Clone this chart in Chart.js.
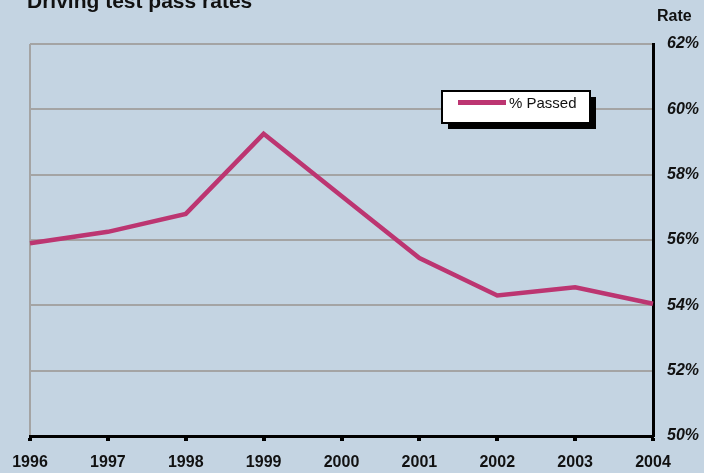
<!DOCTYPE html>
<html>
<head>
<meta charset="utf-8">
<script src="https://cdn.jsdelivr.net/npm/chart.js@4/dist/chart.umd.min.js"></script>
<style>
  html, body { margin: 0; padding: 0; background: #c4d4e2; }
  #wrap { width: 704px; height: 473px; position: relative; }
</style>
</head>
<body>
<div id="wrap"><canvas id="c" width="704" height="473"></canvas></div>
<script>
// Driving test pass rates by year
const years = ['1996', '1997', '1998', '1999', '2000', '2001', '2002', '2003', '2004'];
const passed = [55.9, 56.25, 56.8, 59.25, 57.35, 55.45, 54.3, 54.55, 54.05];
const rateTicks = [50, 52, 54, 56, 58, 60, 62];

const chartTitle = 'Driving test pass rates';
const axisTitle = 'Rate';
const seriesName = '% Passed';
const lineColor = '#bc3571';
const FONT = '"Liberation Sans", Arial, sans-serif';

// Title, axis caption and boxed legend with drop shadow
const decorations = {
  id: 'decorations',
  afterDraw(chart) {
    const ctx = chart.ctx;
    ctx.save();
    ctx.fillStyle = '#111';
    ctx.textBaseline = 'alphabetic';
    ctx.font = 'bold 21px ' + FONT;
    ctx.textAlign = 'left';
    ctx.fillText(chartTitle, 27, 8);
    ctx.font = 'bold 16px ' + FONT;
    ctx.fillText(axisTitle, 657, 21);

    // legend box
    const bx = 442, by = 91, bw = 148, bh = 32;
    ctx.fillStyle = '#000';
    ctx.fillRect(bx + 6, by + 6, bw, bh);
    ctx.fillStyle = '#fff';
    ctx.fillRect(bx, by, bw, bh);
    ctx.strokeStyle = '#000';
    ctx.lineWidth = 2;
    ctx.strokeRect(bx, by, bw, bh);
    ctx.strokeStyle = lineColor;
    ctx.lineWidth = 5;
    ctx.beginPath();
    ctx.moveTo(458, 102.5);
    ctx.lineTo(506, 102.5);
    ctx.stroke();
    ctx.fillStyle = '#111';
    ctx.font = '15px ' + FONT;
    ctx.textBaseline = 'middle';
    ctx.fillText(seriesName, 509, 104);
    ctx.restore();
  }
};

new Chart(document.getElementById('c'), {
  type: 'line',
  data: {
    labels: years,
    datasets: [{
      label: seriesName,
      data: passed,
      borderColor: lineColor,
      borderWidth: 4.5,
      pointRadius: 0,
      tension: 0,
      fill: false
    }]
  },
  options: {
    responsive: false,
    animation: false,
    devicePixelRatio: 1,
    layout: { padding: { left: 30, top: 44, right: 0, bottom: 0 } },
    plugins: {
      legend: { display: false },
      title: { display: false },
      tooltip: { enabled: false }
    },
    scales: {
      x: {
        offset: false,
        grid: {
          color: c => c.index === 0 ? '#a4a4a4' : 'rgba(0,0,0,0)',
          lineWidth: 2,
          drawTicks: true,
          tickLength: 5,
          tickWidth: 4,
          tickColor: '#000'
        },
        border: { display: true, color: '#000', width: 3 },
        ticks: {
          color: '#111',
          font: { family: FONT, size: 16, weight: 'bold' },
          padding: 12,
          maxRotation: 0,
          autoSkip: false
        },
        afterFit(scale) { scale.height = 37; }
      },
      y: {
        position: 'right',
        min: 50,
        max: 62,
        afterBuildTicks(scale) { scale.ticks = rateTicks.map(v => ({ value: v })); },
        grid: {
          color: '#a4a4a4',
          lineWidth: 2,
          drawTicks: false
        },
        border: { display: true, color: '#000', width: 3 },
        ticks: {
          color: '#111',
          font: { family: FONT, size: 16, weight: 'bold', style: 'italic' },
          padding: 14,
          callback: v => v + '%'
        },
        afterFit(scale) { scale.width = 51; }
      }
    }
  },
  plugins: [decorations]
});
</script>
</body>
</html>
